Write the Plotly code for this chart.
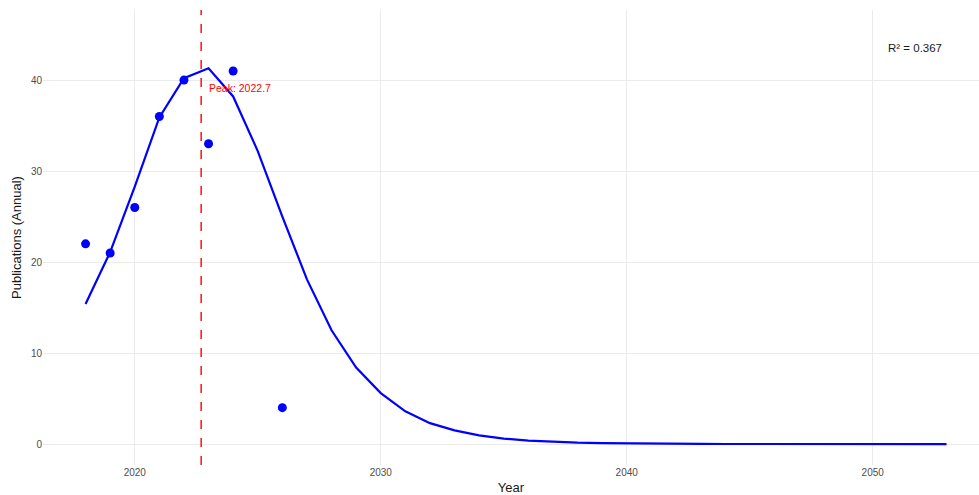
import plotly.graph_objects as go

# Observed annual publication counts
obs_years = [2018, 2019, 2020, 2021, 2022, 2023, 2024, 2026]
obs_counts = [22, 21, 26, 36, 40, 33, 41, 4]

# Fitted curve (annual values)
fit_years = list(range(2018, 2054))
fit_values = [15.4, 21.1, 28.3, 35.9, 40.2, 41.3, 38.2, 32.2, 25.0, 18.1,
              12.5, 8.4, 5.6, 3.6, 2.3, 1.5, 0.95, 0.6, 0.38, 0.24,
              0.15, 0.1, 0.06, 0.04, 0.025, 0.015, 0.01, 0.006, 0.004, 0.003,
              0.002, 0.0015, 0.001, 0.0007, 0.0005, 0.0003]

peak_year = 2022.7
r_squared = 0.367

x_ticks = [2020, 2030, 2040, 2050]
y_ticks = [0, 10, 20, 30, 40]

fig = go.Figure()

fig.add_trace(go.Scatter(
    x=fit_years, y=fit_values, mode="lines",
    line=dict(color="#0000FF", width=2.2),
    showlegend=False, hoverinfo="skip"))

fig.add_trace(go.Scatter(
    x=obs_years, y=obs_counts, mode="markers",
    marker=dict(color="#0000FF", size=9),
    showlegend=False))

fig.add_shape(type="line", x0=peak_year, x1=peak_year, xref="x",
              y0=0, y1=1, yref="paper",
              line=dict(color="#FF2020", width=1.6, dash="dash"))

fig.add_annotation(x=peak_year + 0.25, y=39.1, text=f"Peak: {peak_year}",
                   showarrow=False, xanchor="left", yanchor="middle",
                   font=dict(color="#FF0000", size=10.5))

fig.add_annotation(x=2051.7, y=43.5, text=f"R² = {r_squared}",
                   showarrow=False, xanchor="center", yanchor="middle",
                   font=dict(color="#1a1a1a", size=11.5))

fig.update_layout(
    width=979, height=495,
    margin=dict(l=43, r=0, t=10, b=30),
    plot_bgcolor="white", paper_bgcolor="white",
    font=dict(family="Liberation Sans, Arial, sans-serif", color="#4d4d4d"),
)

fig.update_xaxes(
    range=[2016.27, 2054.32], tickvals=x_ticks,
    showgrid=True, gridcolor="#EBEBEB", gridwidth=1,
    zeroline=False, showline=False, ticks="",
    tickfont=dict(size=10, color="#4d4d4d"),
    title=dict(text="Year", font=dict(size=13, color="#1a1a1a"), standoff=5),
)
fig.update_yaxes(
    range=[-2.3, 47.7], tickvals=y_ticks,
    showgrid=True, gridcolor="#EBEBEB", gridwidth=1,
    zeroline=False, showline=False, ticks="",
    tickfont=dict(size=10, color="#4d4d4d"),
    title=dict(text="Publications (Annual)", font=dict(size=13, color="#1a1a1a"), standoff=6),
)

fig.write_html("out.html")
